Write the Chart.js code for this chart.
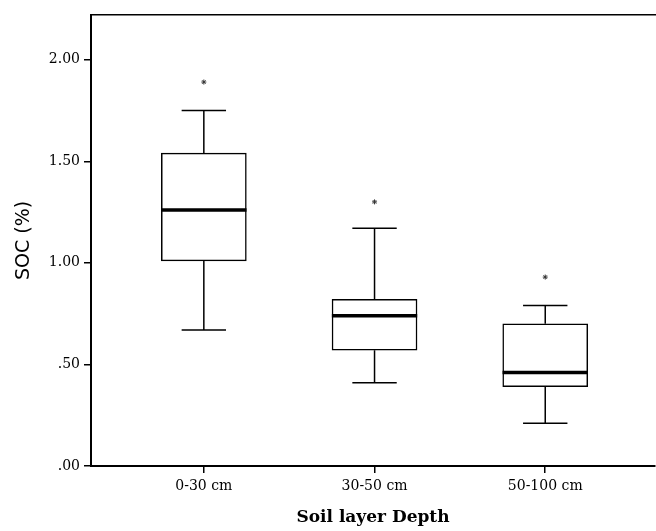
<!DOCTYPE html>
<html>
<head>
<meta charset="utf-8">
<script src="https://cdn.jsdelivr.net/npm/chart.js@4"></script>
<style>
  html, body { margin: 0; background: #fff; overflow: hidden; }
  canvas { display: block; }
</style>
</head>
<body>
<canvas id="chart" width="660" height="531"></canvas>
<script>
// values
var categories = ['0-30 cm', '30-50 cm', '50-100 cm']
var whiskerLow = [0.67, 0.41, 0.21]
var q1 = [1.01, 0.57, 0.39]
var median = [1.26, 0.74, 0.46]
var q3 = [1.54, 0.82, 0.70]
var whiskerHigh = [1.75, 1.17, 0.79]
var outliers = [1.89, 1.30, 0.93]
var yTickValues = [0, 0.5, 1, 1.5, 2]
var yTickLabels = ['.00', '.50', '1.00', '1.50', '2.00']

var capHalf = 0.13
var boxHalf = 0.25
var serif = "'DejaVu Serif', 'Liberation Serif', serif"

// build datasets from the arrays
var boxData = [], whiskerData = [], capData = [], medianData = [], outlierData = []
categories.forEach(function (c, i) {
  var x = i + 1
  boxData.push({x: x, y: [q1[i], q3[i]]})
  whiskerData.push({x: x, y: q3[i]}, {x: x, y: whiskerHigh[i]}, {x: x, y: null})
  whiskerData.push({x: x, y: q1[i]}, {x: x, y: whiskerLow[i]}, {x: x, y: null})
  capData.push({x: x - capHalf, y: whiskerHigh[i]}, {x: x + capHalf, y: whiskerHigh[i]}, {x: x, y: null})
  capData.push({x: x - capHalf, y: whiskerLow[i]}, {x: x + capHalf, y: whiskerLow[i]}, {x: x, y: null})
  medianData.push({x: x - boxHalf, y: median[i]}, {x: x + boxHalf, y: median[i]}, {x: x, y: null})
  outlierData.push({x: x, y: outliers[i]})
})

var lineDs = function (data, width) {
  return {
    type: 'line', data: data, borderColor: '#000', borderWidth: width,
    pointRadius: 0, spanGaps: false, fill: false, order: 1, borderCapStyle: 'butt'
  }
}

const ctx = document.getElementById('chart').getContext('2d')
new Chart(ctx, {
  type: 'bar',
  data: {
    datasets: [
      {
        type: 'bar', data: boxData, backgroundColor: '#fff', borderColor: '#000',
        borderWidth: 1.5, borderSkipped: false, barThickness: 85, order: 3
      },
      lineDs(whiskerData, 1.5),
      lineDs(capData, 1.5),
      lineDs(medianData, 3.5),
      {
        type: 'scatter', data: outlierData, pointStyle: 'star', pointRadius: 2.5,
        borderColor: '#333', borderWidth: 1, order: 0
      }
    ]
  },
  options: {
    responsive: false,
    animation: false,
    layout: { padding: 0 },
    plugins: { legend: { display: false }, tooltip: { enabled: false } },
    scales: {
      x: {
        type: 'linear', position: 'bottom', min: 0.339, max: 3.643, offset: false,
        afterBuildTicks: function (scale) { scale.ticks = [1, 2, 3].map(function (v) { return {value: v} }) },
        afterFit: function (scale) { scale.height = 65 },
        ticks: {
          autoSkip: false, maxRotation: 0, padding: 5, color: '#000',
          font: { family: serif, size: 14 },
          callback: function (val) { return categories[val - 1] }
        },
        grid: { offset: false, drawOnChartArea: false, drawTicks: true, tickLength: 7, color: '#000', lineWidth: 1.5 },
        border: { color: '#000', width: 2 },
        title: {
          display: true, text: 'Soil layer Depth', color: '#000',
          font: { family: serif, size: 17, weight: 'bold' }, padding: { top: 0, bottom: 3 }
        }
      },
      x2: {
        type: 'linear', position: 'top', min: 0, max: 1, offset: false,
        afterFit: function (scale) { scale.height = 15 },
        ticks: { display: false },
        grid: { display: false },
        border: { color: '#000', width: 1.5 }
      },
      y: {
        type: 'linear', position: 'left', min: 0, max: 2.22,
        afterBuildTicks: function (scale) { scale.ticks = yTickValues.map(function (v) { return {value: v} }) },
        afterFit: function (scale) { scale.width = 91 },
        ticks: {
          padding: 4, color: '#000',
          font: { family: serif, size: 14 },
          callback: function (val) { return yTickLabels[yTickValues.indexOf(val)] }
        },
        grid: { drawOnChartArea: false, drawTicks: true, tickLength: 7, color: '#000', lineWidth: 1.5 },
        border: { color: '#000', width: 2 },
        title: {
          display: true, text: 'SOC (%)', color: '#000',
          font: { family: "'DejaVu Sans', sans-serif", size: 19 }, padding: { top: 13, bottom: 0 }
        }
      }
    }
  }
})
</script>
</body>
</html>
